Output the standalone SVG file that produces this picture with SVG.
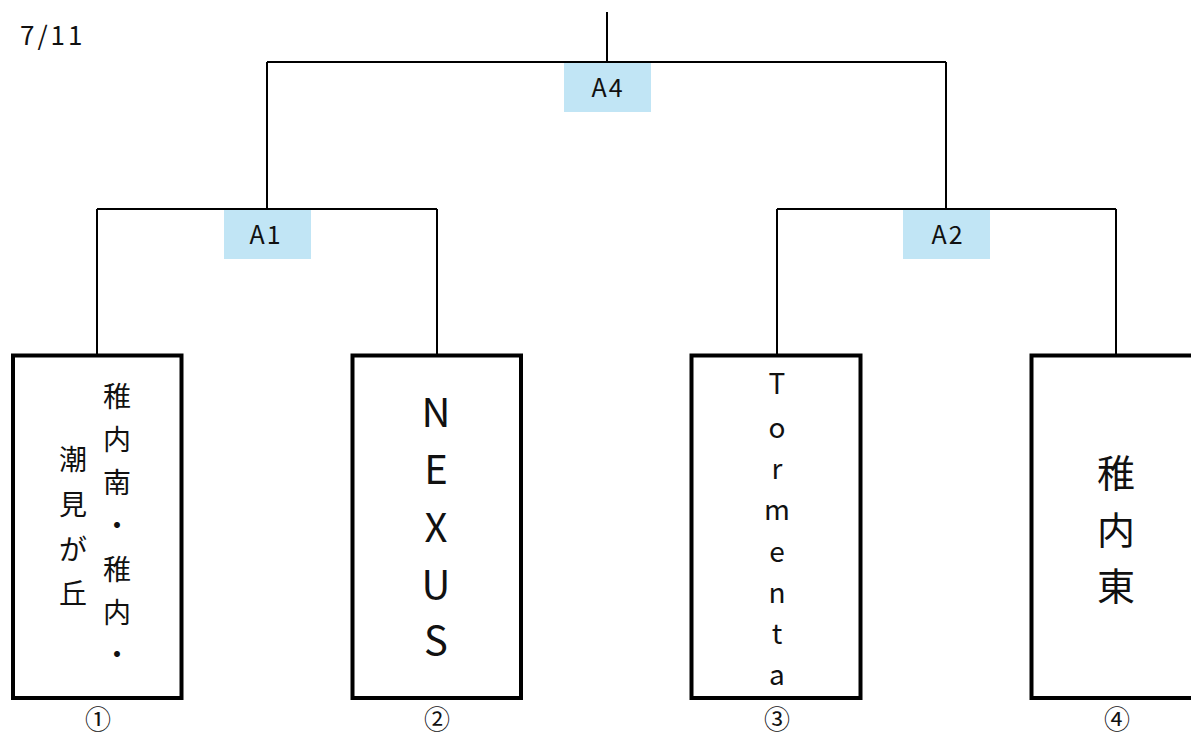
<svg xmlns="http://www.w3.org/2000/svg" width="1191" height="736" viewBox="0 0 1191 736">
<style>
.ln{stroke:#000;stroke-width:2;fill:none}
.box{fill:#fff;stroke:#000;stroke-width:4}
.lbl{fill:#c1e5f5}
text{font-family:"Noto Sans CJK JP","Noto Sans",sans-serif;fill:#111}
.t{text-anchor:middle;dominant-baseline:central}
.lt{font-size:25px;text-anchor:middle;dominant-baseline:central;letter-spacing:2px}
.num{font-size:26px;text-anchor:middle}
</style>
<rect width="1191" height="736" fill="#fff"/>
<text x="20" y="45" font-size="26" letter-spacing="3">7/11</text>
<g id="connectors">
<path class="ln" d="M607 12V62M267 62H946M267 62V209M946 62V209M97 209H437M777 209H1116M97 209V355M437 209V355M777 209V355M1116 209V355"/>
</g>
<g id="A4"><rect class="lbl" x="564" y="63" width="87" height="49"/><text class="lt" x="608" y="86">A4</text></g>
<g id="A1"><rect class="lbl" x="224" y="210" width="87" height="49"/><text class="lt" x="266" y="233">A1</text></g>
<g id="A2"><rect class="lbl" x="903" y="210" width="87" height="49"/><text class="lt" x="948" y="233">A2</text></g>
<g id="team1">
<rect class="box" x="13" y="355.5" width="168.5" height="342.5"/>
<text class="t" font-size="28"><tspan x="117" y="395">稚</tspan><tspan x="117" y="438">内</tspan><tspan x="117" y="481">南</tspan><tspan x="117" y="524">・</tspan><tspan x="117" y="568">稚</tspan><tspan x="117" y="611">内</tspan><tspan x="117" y="653">・</tspan><tspan x="73" y="458">潮</tspan><tspan x="73" y="503">見</tspan><tspan x="73" y="548">が</tspan><tspan x="73" y="592">丘</tspan></text>
<text class="num" x="98" y="729">①</text>
</g>
<g id="team2">
<rect class="box" x="352.5" y="355.5" width="168.5" height="342.5"/>
<text class="t" font-size="40"><tspan x="436" y="410">N</tspan><tspan x="436" y="467">E</tspan><tspan x="436" y="525">X</tspan><tspan x="436" y="582">U</tspan><tspan x="436" y="638">S</tspan></text>
<text class="num" x="437" y="729">②</text>
</g>
<g id="team3">
<rect class="box" x="691.5" y="355.5" width="169" height="342.5"/>
<text class="t" font-size="28"><tspan x="777" y="382">T</tspan><tspan x="777" y="426">o</tspan><tspan x="777" y="467">r</tspan><tspan x="777" y="508">m</tspan><tspan x="777" y="550">e</tspan><tspan x="777" y="591">n</tspan><tspan x="777" y="632">t</tspan><tspan x="777" y="673">a</tspan></text>
<text class="num" x="777" y="729">③</text>
</g>
<g id="team4">
<rect class="box" x="1031.5" y="355.5" width="168.5" height="342.5"/>
<text class="t" font-size="38"><tspan x="1116" y="470">稚</tspan><tspan x="1116" y="527">内</tspan><tspan x="1116" y="583">東</tspan></text>
<text class="num" x="1117" y="729">④</text>
</g>
</svg>
